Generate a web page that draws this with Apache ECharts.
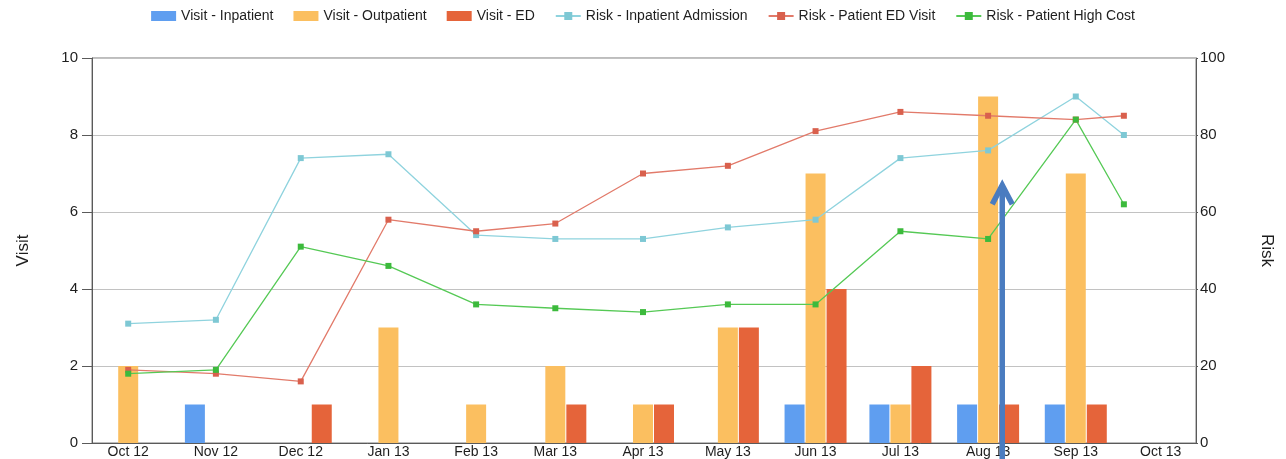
<!DOCTYPE html>
<html>
<head>
<meta charset="utf-8">
<script src="https://cdn.jsdelivr.net/npm/echarts@6/dist/echarts.min.js"></script>
<style>
html,body{margin:0;padding:0;background:#fff;}
#chart{width:1286px;height:459px;}
</style>
</head>
<body>
<div id="chart"></div>
<script>
// ---- data ----
var visitDates = ['2012-10-01','2012-11-01','2012-12-01','2013-01-01','2013-02-01','2013-03-01',
                  '2013-04-01','2013-05-01','2013-06-01','2013-07-01','2013-08-01','2013-09-01'];
var visitInpatient  = [0,1,0,0,0,0,0,0,1,1,1,1];
var visitOutpatient = [2,0,0,3,1,2,1,3,7,1,9,7];
var visitED         = [0,0,1,0,0,1,1,3,4,2,1,1];

var riskDates = ['2012-10-01','2012-11-01','2012-12-01','2013-01-01','2013-02-01','2013-03-01',
                 '2013-04-01','2013-05-01','2013-06-01','2013-07-01','2013-08-01','2013-09-01','2013-09-18'];
var riskInpatientAdmission = [31,32,74,75,54,53,53,56,58,74,76,90,80];
var riskPatientEDVisit     = [19,18,16,58,55,57,70,72,81,86,85,84,85];
var riskPatientHighCost    = [18,19,51,46,36,35,34,36,36,55,53,84,62];

var tickDates  = ['2012-10-01','2012-11-01','2012-12-01','2013-01-01','2013-02-01','2013-03-01',
                  '2013-04-01','2013-05-01','2013-06-01','2013-07-01','2013-08-01','2013-09-01','2013-10-01'];
var tickLabels = ['Oct 12','Nov 12','Dec 12','Jan 13','Feb 13','Mar 13','Apr 13','May 13',
                  'Jun 13','Jul 13','Aug 13','Sep 13','Oct 13'];

var arrowPoint = ['2013-08-06', 6.8]; // annotation arrow tip (date, visit)

// ---- helpers ----
var DAY = 86400000;
function ts(s) {
  var p = s.split('-');
  return Date.UTC(+p[0], +p[1] - 1, +p[2]);
}
function pairs(dates, vals) {
  return dates.map(function (d, i) { return [ts(d), vals[i]]; });
}
var tickTs = tickDates.map(function (d) { return ts(d); });

var FONT = 'Liberation Sans';
var axisColor = '#5a5a5a';
var textColor = '#1e1e1e';

var chart = echarts.init(document.getElementById('chart'), null, {renderer: 'canvas'});

function lineSeries(name, dates, vals, lineColor, markColor) {
  return {
    name: name, type: 'line', yAxisIndex: 1,
    data: pairs(dates, vals),
    symbol: 'rect', symbolSize: 6,
    itemStyle: {color: markColor},
    lineStyle: {color: lineColor, width: 1.3},
    z: 3, animation: false
  };
}
function barSeries(name, vals, color) {
  return {
    name: name, type: 'bar', yAxisIndex: 0,
    data: pairs(visitDates, vals),
    barWidth: 20, barGap: '5%',
    itemStyle: {color: color},
    z: 2, animation: false
  };
}

var option = {
  animation: false,
  backgroundColor: '#ffffff',
  textStyle: {fontFamily: FONT},
  legend: {
    top: 4, left: 'center',
    itemWidth: 25, itemHeight: 10, itemGap: 20,
    textStyle: {fontFamily: FONT, fontSize: 14, color: textColor},
    data: [
      {name: 'Visit - Inpatient', icon: 'rect'},
      {name: 'Visit - Outpatient', icon: 'rect'},
      {name: 'Visit - ED', icon: 'rect'},
      'Risk - Inpatient Admission',
      'Risk - Patient ED Visit',
      'Risk - Patient High Cost'
    ]
  },
  grid: {
    left: 92, right: 90, top: 58, bottom: 16,
    show: true, borderColor: '#7a7a7a', borderWidth: 1, containLabel: false
  },
  xAxis: {
    type: 'value',
    min: ts('2012-10-01') - 12.8 * DAY,
    max: ts('2013-10-01') + 12.5 * DAY,
    axisLine: {show: true, onZero: false, lineStyle: {color: axisColor}},
    axisTick: {show: false, customValues: tickTs},
    splitLine: {show: false},
    axisLabel: {
      customValues: tickTs,
      margin: 2,
      fontFamily: FONT, fontSize: 14, color: textColor,
      hideOverlap: false,
      formatter: function (v) {
        var i = tickTs.indexOf(+v);
        return i >= 0 ? tickLabels[i] : '';
      }
    }
  },
  yAxis: [
    {
      type: 'value', min: 0, max: 10, interval: 2,
      name: 'Visit', nameLocation: 'middle', nameGap: 60, nameRotate: 90,
      nameTextStyle: {fontFamily: FONT, fontSize: 17, color: textColor},
      axisLine: {show: true, lineStyle: {color: axisColor}},
      axisTick: {show: true, length: 10, lineStyle: {color: axisColor}},
      axisLabel: {margin: 14, fontFamily: FONT, fontSize: 15, color: textColor},
      splitLine: {show: true, lineStyle: {color: '#c2c2c2', width: 1}}
    },
    {
      type: 'value', min: 0, max: 100, interval: 20,
      name: 'Risk', nameLocation: 'middle', nameGap: 62, nameRotate: -90,
      nameTextStyle: {fontFamily: FONT, fontSize: 17, color: textColor},
      axisLine: {show: true, lineStyle: {color: axisColor}},
      axisTick: {show: true, length: 2, lineStyle: {color: axisColor}},
      axisLabel: {margin: 4, fontFamily: FONT, fontSize: 15, color: textColor},
      splitLine: {show: false}
    }
  ],
  series: [
    barSeries('Visit - Inpatient', visitInpatient, '#5f9ef0'),
    barSeries('Visit - Outpatient', visitOutpatient, '#fbbf60'),
    barSeries('Visit - ED', visitED, '#e5643a'),
    lineSeries('Risk - Inpatient Admission', riskDates, riskInpatientAdmission, '#8fd3de', '#7ec8d4'),
    lineSeries('Risk - Patient ED Visit', riskDates, riskPatientEDVisit, '#e27a6a', '#d9604d'),
    lineSeries('Risk - Patient High Cost', riskDates, riskPatientHighCost, '#55c955', '#3cba3c')
  ]
};
chart.setOption(option);

// annotation arrow positioned from data coordinates
var tip = chart.convertToPixel({xAxisIndex: 0, yAxisIndex: 0}, [ts(arrowPoint[0]), arrowPoint[1]]);
var bottomY = chart.getHeight();
var arrowColor = '#4a7cc0';
chart.setOption({
  graphic: [
    {type: 'polyline', z: 100, shape: {points: [[tip[0], bottomY], [tip[0], tip[1] + 4]]},
     style: {stroke: arrowColor, lineWidth: 5.5, fill: null}},
    {type: 'polyline', z: 100, shape: {points: [[tip[0] - 10, tip[1] + 23], [tip[0], tip[1] + 4], [tip[0] + 10, tip[1] + 23]]},
     style: {stroke: arrowColor, lineWidth: 5.5, fill: null, lineJoin: 'miter', lineCap: 'butt'}}
  ]
});
</script>
</body>
</html>
